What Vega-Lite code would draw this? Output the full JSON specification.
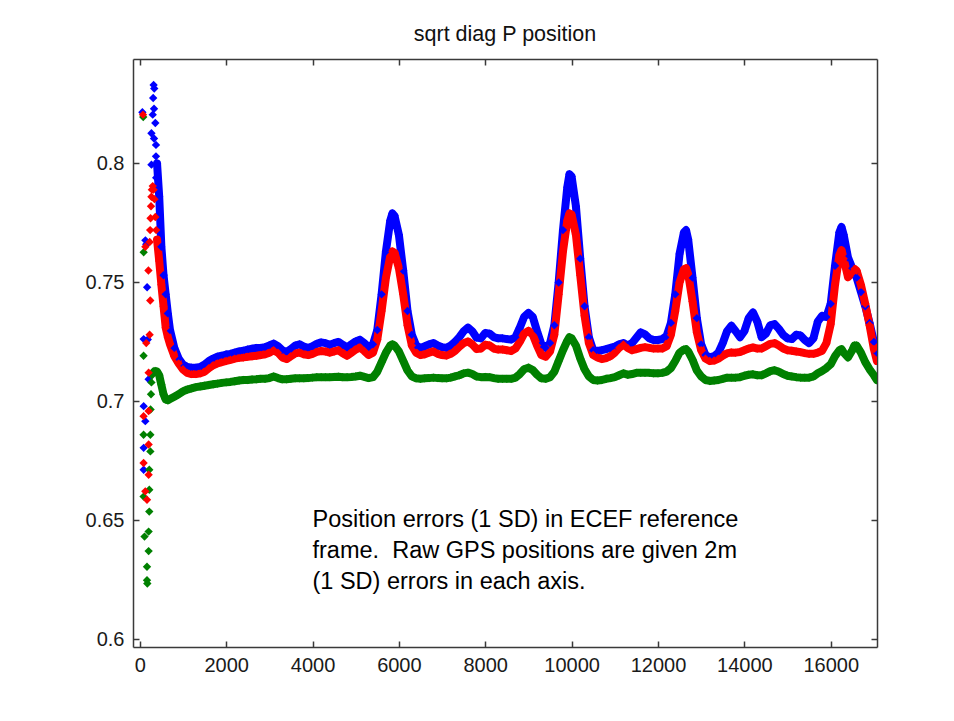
{
  "$schema": "https://vega.github.io/schema/vega-lite/v6.json",
  "width": 744,
  "height": 588,
  "autosize": {"type": "none"},
  "padding": {"left": 133, "top": 59, "right": 77, "bottom": 74},
  "background": "white",
  "title": {"text": "sqrt diag P position", "font": "Liberation Sans", "fontSize": 21.5, "fontWeight": "normal", "color": "#111111", "anchor": "middle", "baseline": "alphabetic", "offset": -4},
  "datasets": {
    "track": [
      {"t":400,"b":0.800,"r":0.768,"g":0.7125},
      {"t":450,"b":0.786,"r":0.759,"g":0.711},
      {"t":500,"b":0.765,"r":0.749,"g":0.707},
      {"t":550,"b":0.753,"r":0.740,"g":0.703},
      {"t":600,"b":0.745,"r":0.731,"g":0.7008},
      {"t":650,"b":0.737,"r":0.727,"g":0.7005},
      {"t":700,"b":0.730,"r":0.724,"g":0.701},
      {"t":800,"b":0.7225,"r":0.719,"g":0.702},
      {"t":900,"b":0.718,"r":0.716,"g":0.703},
      {"t":1000,"b":0.7155,"r":0.7135,"g":0.7042},
      {"t":1100,"b":0.7145,"r":0.712,"g":0.705},
      {"t":1200,"b":0.7142,"r":0.7115,"g":0.7055},
      {"t":1300,"b":0.7142,"r":0.7115,"g":0.706},
      {"t":1400,"b":0.7145,"r":0.7118,"g":0.7063},
      {"t":1500,"b":0.7155,"r":0.7125,"g":0.7066},
      {"t":1600,"b":0.717,"r":0.714,"g":0.7069},
      {"t":1700,"b":0.718,"r":0.7152,"g":0.7072},
      {"t":1800,"b":0.7188,"r":0.716,"g":0.7075},
      {"t":1900,"b":0.7192,"r":0.7165,"g":0.7078},
      {"t":2000,"b":0.7197,"r":0.717,"g":0.708},
      {"t":2100,"b":0.720,"r":0.7175,"g":0.7082},
      {"t":2200,"b":0.7205,"r":0.718,"g":0.7085},
      {"t":2300,"b":0.721,"r":0.7183,"g":0.7088},
      {"t":2400,"b":0.7213,"r":0.7185,"g":0.709},
      {"t":2500,"b":0.7218,"r":0.7188,"g":0.709},
      {"t":2600,"b":0.7222,"r":0.719,"g":0.7092},
      {"t":2700,"b":0.7225,"r":0.7192,"g":0.7093},
      {"t":2800,"b":0.7225,"r":0.7195,"g":0.7095},
      {"t":2900,"b":0.7228,"r":0.7198,"g":0.7095},
      {"t":3000,"b":0.7235,"r":0.7205,"g":0.7098},
      {"t":3100,"b":0.7243,"r":0.7215,"g":0.7105},
      {"t":3200,"b":0.7232,"r":0.7205,"g":0.7098},
      {"t":3300,"b":0.7215,"r":0.7185,"g":0.7093},
      {"t":3400,"b":0.7208,"r":0.7178,"g":0.7093},
      {"t":3500,"b":0.722,"r":0.719,"g":0.7095},
      {"t":3600,"b":0.7235,"r":0.7202,"g":0.7097},
      {"t":3700,"b":0.724,"r":0.7205,"g":0.7097},
      {"t":3800,"b":0.723,"r":0.7198,"g":0.7097},
      {"t":3900,"b":0.7225,"r":0.7195,"g":0.7098},
      {"t":4000,"b":0.7232,"r":0.720,"g":0.710},
      {"t":4100,"b":0.7242,"r":0.7208,"g":0.7102},
      {"t":4200,"b":0.7248,"r":0.7212,"g":0.7102},
      {"t":4300,"b":0.7245,"r":0.721,"g":0.7102},
      {"t":4400,"b":0.7238,"r":0.7205,"g":0.7102},
      {"t":4500,"b":0.7245,"r":0.721,"g":0.7103},
      {"t":4600,"b":0.725,"r":0.7215,"g":0.7104},
      {"t":4700,"b":0.7238,"r":0.7202,"g":0.7102},
      {"t":4800,"b":0.7227,"r":0.7192,"g":0.7102},
      {"t":4900,"b":0.724,"r":0.7205,"g":0.7103},
      {"t":5000,"b":0.7252,"r":0.7218,"g":0.7105},
      {"t":5100,"b":0.7259,"r":0.7227,"g":0.7108},
      {"t":5200,"b":0.7245,"r":0.7212,"g":0.7103},
      {"t":5300,"b":0.7228,"r":0.7195,"g":0.7098},
      {"t":5400,"b":0.724,"r":0.7205,"g":0.7102},
      {"t":5500,"b":0.730,"r":0.726,"g":0.7125},
      {"t":5600,"b":0.745,"r":0.738,"g":0.7165},
      {"t":5700,"b":0.763,"r":0.752,"g":0.7205},
      {"t":5800,"b":0.776,"r":0.761,"g":0.7235},
      {"t":5850,"b":0.779,"r":0.763,"g":0.724},
      {"t":5900,"b":0.778,"r":0.7625,"g":0.7235},
      {"t":6000,"b":0.770,"r":0.756,"g":0.721},
      {"t":6100,"b":0.755,"r":0.745,"g":0.717},
      {"t":6200,"b":0.738,"r":0.732,"g":0.713},
      {"t":6300,"b":0.728,"r":0.7235,"g":0.7105},
      {"t":6400,"b":0.7235,"r":0.7205,"g":0.7097},
      {"t":6500,"b":0.7225,"r":0.7195,"g":0.7095},
      {"t":6600,"b":0.7232,"r":0.7198,"g":0.7097},
      {"t":6700,"b":0.724,"r":0.7205,"g":0.7098},
      {"t":6800,"b":0.7245,"r":0.721,"g":0.710},
      {"t":6900,"b":0.7235,"r":0.720,"g":0.7098},
      {"t":7000,"b":0.7228,"r":0.7195,"g":0.7097},
      {"t":7100,"b":0.7225,"r":0.7193,"g":0.7097},
      {"t":7200,"b":0.7235,"r":0.720,"g":0.710},
      {"t":7300,"b":0.725,"r":0.7212,"g":0.7105},
      {"t":7400,"b":0.727,"r":0.723,"g":0.711},
      {"t":7500,"b":0.7295,"r":0.7245,"g":0.7118},
      {"t":7600,"b":0.731,"r":0.7252,"g":0.7121},
      {"t":7700,"b":0.7295,"r":0.724,"g":0.7115},
      {"t":7800,"b":0.7268,"r":0.722,"g":0.7105},
      {"t":7900,"b":0.7265,"r":0.7222,"g":0.7102},
      {"t":8000,"b":0.7288,"r":0.7238,"g":0.7103},
      {"t":8100,"b":0.7285,"r":0.7235,"g":0.7102},
      {"t":8200,"b":0.727,"r":0.7222,"g":0.7098},
      {"t":8300,"b":0.7265,"r":0.7218,"g":0.7095},
      {"t":8400,"b":0.7265,"r":0.7218,"g":0.7095},
      {"t":8500,"b":0.7262,"r":0.7215,"g":0.7095},
      {"t":8600,"b":0.726,"r":0.7212,"g":0.7095},
      {"t":8700,"b":0.727,"r":0.7222,"g":0.710},
      {"t":8800,"b":0.731,"r":0.725,"g":0.7115},
      {"t":8900,"b":0.7355,"r":0.7285,"g":0.7135},
      {"t":9000,"b":0.7372,"r":0.7297,"g":0.7142},
      {"t":9100,"b":0.7355,"r":0.728,"g":0.7132},
      {"t":9200,"b":0.7295,"r":0.7235,"g":0.7112},
      {"t":9300,"b":0.724,"r":0.7195,"g":0.7097},
      {"t":9400,"b":0.7225,"r":0.7188,"g":0.7095},
      {"t":9500,"b":0.7245,"r":0.721,"g":0.7102},
      {"t":9600,"b":0.732,"r":0.728,"g":0.7125},
      {"t":9700,"b":0.750,"r":0.745,"g":0.717},
      {"t":9800,"b":0.772,"r":0.763,"g":0.7215},
      {"t":9900,"b":0.790,"r":0.776,"g":0.7255},
      {"t":9950,"b":0.7955,"r":0.779,"g":0.727},
      {"t":10000,"b":0.7945,"r":0.7785,"g":0.7265},
      {"t":10100,"b":0.782,"r":0.770,"g":0.7235},
      {"t":10200,"b":0.760,"r":0.753,"g":0.718},
      {"t":10300,"b":0.740,"r":0.736,"g":0.7135},
      {"t":10400,"b":0.727,"r":0.7245,"g":0.7105},
      {"t":10500,"b":0.7215,"r":0.7195,"g":0.709},
      {"t":10600,"b":0.7212,"r":0.7185,"g":0.7088},
      {"t":10700,"b":0.7215,"r":0.7178,"g":0.709},
      {"t":10800,"b":0.722,"r":0.7182,"g":0.7095},
      {"t":10900,"b":0.7225,"r":0.719,"g":0.7098},
      {"t":11000,"b":0.723,"r":0.7205,"g":0.7102},
      {"t":11100,"b":0.724,"r":0.7225,"g":0.711},
      {"t":11200,"b":0.7245,"r":0.724,"g":0.7118},
      {"t":11300,"b":0.7235,"r":0.7225,"g":0.7112},
      {"t":11400,"b":0.7245,"r":0.7215,"g":0.7115},
      {"t":11500,"b":0.7268,"r":0.722,"g":0.712},
      {"t":11600,"b":0.729,"r":0.7225,"g":0.712},
      {"t":11700,"b":0.7282,"r":0.7228,"g":0.712},
      {"t":11800,"b":0.7265,"r":0.7225,"g":0.712},
      {"t":11900,"b":0.7258,"r":0.7222,"g":0.7118},
      {"t":12000,"b":0.7258,"r":0.7222,"g":0.7118},
      {"t":12100,"b":0.7262,"r":0.7222,"g":0.712},
      {"t":12200,"b":0.7275,"r":0.7232,"g":0.7125},
      {"t":12300,"b":0.733,"r":0.728,"g":0.714},
      {"t":12400,"b":0.745,"r":0.738,"g":0.717},
      {"t":12500,"b":0.762,"r":0.750,"g":0.7205},
      {"t":12600,"b":0.771,"r":0.7555,"g":0.7218},
      {"t":12650,"b":0.772,"r":0.756,"g":0.722},
      {"t":12700,"b":0.768,"r":0.7535,"g":0.721},
      {"t":12800,"b":0.752,"r":0.742,"g":0.7175},
      {"t":12900,"b":0.735,"r":0.729,"g":0.713},
      {"t":13000,"b":0.724,"r":0.7215,"g":0.7105},
      {"t":13100,"b":0.7195,"r":0.718,"g":0.709},
      {"t":13200,"b":0.7185,"r":0.717,"g":0.7086},
      {"t":13300,"b":0.719,"r":0.7172,"g":0.7088},
      {"t":13400,"b":0.7205,"r":0.718,"g":0.709},
      {"t":13500,"b":0.7245,"r":0.7192,"g":0.7095},
      {"t":13600,"b":0.7295,"r":0.7202,"g":0.710},
      {"t":13700,"b":0.7318,"r":0.7206,"g":0.710},
      {"t":13800,"b":0.7295,"r":0.7205,"g":0.710},
      {"t":13900,"b":0.727,"r":0.7208,"g":0.7102},
      {"t":14000,"b":0.7295,"r":0.7215,"g":0.7108},
      {"t":14100,"b":0.735,"r":0.7222,"g":0.7112},
      {"t":14200,"b":0.7374,"r":0.7227,"g":0.7114},
      {"t":14300,"b":0.7335,"r":0.7222,"g":0.711},
      {"t":14400,"b":0.727,"r":0.7222,"g":0.711},
      {"t":14500,"b":0.7285,"r":0.7232,"g":0.7118},
      {"t":14600,"b":0.732,"r":0.7242,"g":0.7127},
      {"t":14700,"b":0.7325,"r":0.7245,"g":0.7131},
      {"t":14800,"b":0.7305,"r":0.7235,"g":0.7125},
      {"t":14900,"b":0.728,"r":0.7222,"g":0.7115},
      {"t":15000,"b":0.7265,"r":0.7215,"g":0.7108},
      {"t":15100,"b":0.7262,"r":0.7213,"g":0.7105},
      {"t":15200,"b":0.728,"r":0.721,"g":0.7102},
      {"t":15300,"b":0.7277,"r":0.7207,"g":0.710},
      {"t":15400,"b":0.7258,"r":0.7203,"g":0.710},
      {"t":15500,"b":0.7245,"r":0.720,"g":0.710},
      {"t":15600,"b":0.7265,"r":0.720,"g":0.7105},
      {"t":15700,"b":0.7335,"r":0.7205,"g":0.7118},
      {"t":15800,"b":0.736,"r":0.7213,"g":0.7128},
      {"t":15900,"b":0.7355,"r":0.7245,"g":0.714},
      {"t":16000,"b":0.741,"r":0.7325,"g":0.7156},
      {"t":16100,"b":0.757,"r":0.749,"g":0.719},
      {"t":16200,"b":0.771,"r":0.7615,"g":0.7215},
      {"t":16250,"b":0.7733,"r":0.7636,"g":0.722},
      {"t":16300,"b":0.770,"r":0.760,"g":0.7205},
      {"t":16400,"b":0.7605,"r":0.7522,"g":0.7185},
      {"t":16500,"b":0.756,"r":0.754,"g":0.7215},
      {"t":16550,"b":0.754,"r":0.7557,"g":0.7235},
      {"t":16600,"b":0.752,"r":0.755,"g":0.7235},
      {"t":16700,"b":0.746,"r":0.749,"g":0.7205},
      {"t":16800,"b":0.740,"r":0.741,"g":0.7165},
      {"t":16900,"b":0.733,"r":0.732,"g":0.7135},
      {"t":17000,"b":0.725,"r":0.722,"g":0.711},
      {"t":17070,"b":0.7205,"r":0.717,"g":0.709}
    ],
    "early": [
      {"t":60,"key":"b","value":0.8215},{"t":90,"key":"b","value":0.7262},{"t":90,"key":"b","value":0.698},{"t":128,"key":"b","value":0.6917},
      {"t":90,"key":"b","value":0.6805},{"t":90,"key":"b","value":0.6713},{"t":170,"key":"b","value":0.748},{"t":130,"key":"b","value":0.7677},
      {"t":150,"key":"b","value":0.766},{"t":205,"key":"b","value":0.7093},{"t":185,"key":"b","value":0.726},{"t":320,"key":"b","value":0.833},
      {"t":335,"key":"b","value":0.8315},{"t":310,"key":"b","value":0.8275},{"t":330,"key":"b","value":0.823},{"t":300,"key":"b","value":0.8205},
      {"t":360,"key":"b","value":0.817},{"t":270,"key":"b","value":0.8127},{"t":330,"key":"b","value":0.8105},{"t":375,"key":"b","value":0.8078},
      {"t":375,"key":"b","value":0.803},{"t":270,"key":"b","value":0.7995},{"t":380,"key":"b","value":0.794},{"t":390,"key":"b","value":0.7905},
      {"t":80,"key":"g","value":0.8195},{"t":88,"key":"g","value":0.7192},{"t":90,"key":"g","value":0.7627},{"t":88,"key":"g","value":0.686},
      {"t":88,"key":"g","value":0.66},{"t":220,"key":"g","value":0.6629},{"t":220,"key":"g","value":0.6537},{"t":205,"key":"g","value":0.6453},
      {"t":110,"key":"g","value":0.6432},{"t":205,"key":"g","value":0.6371},{"t":167,"key":"g","value":0.6305},{"t":167,"key":"g","value":0.6249},
      {"t":175,"key":"g","value":0.6235},{"t":220,"key":"g","value":0.6713},{"t":245,"key":"g","value":0.679},{"t":245,"key":"g","value":0.686},
      {"t":250,"key":"g","value":0.6966},{"t":260,"key":"g","value":0.703},{"t":270,"key":"g","value":0.708},{"t":285,"key":"g","value":0.711},
      {"t":300,"key":"g","value":0.7125},{"t":330,"key":"g","value":0.7128},{"t":360,"key":"g","value":0.7128},{"t":380,"key":"g","value":0.7127},
      {"t":75,"key":"r","value":0.8205},{"t":243,"key":"r","value":0.7424},{"t":228,"key":"r","value":0.728},{"t":205,"key":"r","value":0.7121},
      {"t":205,"key":"r","value":0.696},{"t":88,"key":"r","value":0.6938},{"t":205,"key":"r","value":0.6819},{"t":88,"key":"r","value":0.6741},
      {"t":205,"key":"r","value":0.6692},{"t":128,"key":"r","value":0.6622},{"t":167,"key":"r","value":0.6587},{"t":200,"key":"r","value":0.755},
      {"t":130,"key":"r","value":0.765},{"t":150,"key":"r","value":0.7245},{"t":230,"key":"r","value":0.767},{"t":240,"key":"r","value":0.772},
      {"t":250,"key":"r","value":0.777},{"t":260,"key":"r","value":0.782},{"t":270,"key":"r","value":0.786},{"t":280,"key":"r","value":0.789},
      {"t":300,"key":"r","value":0.7905},{"t":320,"key":"r","value":0.789},{"t":340,"key":"r","value":0.785},{"t":360,"key":"r","value":0.7775},
      {"t":380,"key":"r","value":0.772}
    ],
    "note": [
      {"t":4000,"value":0.65,"label":["Position errors (1 SD) in ECEF reference","frame.\u00a0 Raw GPS positions are given 2m","(1 SD) errors in each axis."]}
    ]
  },
  "layer": [
    {
      "data": {"name": "track"},
      "transform": [{"fold": ["b", "r", "g"]}],
      "mark": {"type": "line", "strokeWidth": 8, "strokeJoin": "round", "strokeCap": "round", "clip": true},
      "encoding": {
        "x": {"field": "t", "type": "quantitative", "scale": {"domain": [-157, 17072], "nice": false, "zero": false},
              "axis": {"orient": "bottom", "values": [0,2000,4000,6000,8000,10000,12000,14000,16000], "format": "d", "labelPadding": 14}},
        "y": {"field": "value", "type": "quantitative", "scale": {"domain": [0.5968, 0.8439], "nice": false, "zero": false},
              "axis": {"orient": "left", "values": [0.6,0.65,0.7,0.75,0.8], "format": ".2~f", "labelPadding": 15}},
        "color": {"field": "key", "type": "nominal", "scale": {"domain": ["b","g","r"], "range": ["#0000ff","#008000","#ff0000"]}, "legend": null},
        "order": {"field": "t", "type": "quantitative"}
      }
    },
    {
      "data": {"name": "track"},
      "transform": [{"fold": ["b", "r", "g"]}],
      "mark": {"type": "point", "shape": "diamond", "filled": true, "size": 70, "opacity": 1, "strokeWidth": 0, "clip": true},
      "encoding": {
        "x": {"field": "t", "type": "quantitative", "axis": null},
        "y": {"field": "value", "type": "quantitative", "axis": null},
        "color": {"field": "key", "type": "nominal"},
        "order": {"field": "key", "type": "nominal"}
      }
    },
    {
      "data": {"name": "early"},
      "mark": {"type": "point", "shape": "diamond", "filled": true, "size": 70, "opacity": 1, "strokeWidth": 0, "clip": true},
      "encoding": {
        "x": {"field": "t", "type": "quantitative", "axis": null},
        "y": {"field": "value", "type": "quantitative", "axis": null},
        "color": {"field": "key", "type": "nominal"},
        "order": {"field": "key", "type": "nominal"}
      }
    },
    {
      "data": {"name": "note"},
      "mark": {"type": "text", "align": "left", "baseline": "middle", "font": "Liberation Sans", "fontSize": 23.5, "lineHeight": 31, "color": "#000000"},
      "encoding": {
        "x": {"field": "t", "type": "quantitative", "axis": {"orient": "top", "values": [0,2000,4000,6000,8000,10000,12000,14000,16000], "labels": false}},
        "y": {"field": "value", "type": "quantitative", "axis": {"orient": "right", "values": [0.6,0.65,0.7,0.75,0.8], "labels": false}},
        "text": {"field": "label"}
      }
    }
  ],
  "resolve": {"axis": {"x": "independent", "y": "independent"}},
  "config": {
    "view": {"stroke": null},
    "axis": {
      "title": null,
      "grid": false,
      "domainColor": "#3a3a3a",
      "domainWidth": 1.5,
      "tickColor": "#3a3a3a",
      "tickWidth": 1.5,
      "tickSize": -6,
      "labelFont": "Liberation Sans",
      "labelFontSize": 20,
      "labelColor": "#1a1a1a",
      "labelFlush": false,
      "labelOverlap": false
    }
  }
}
